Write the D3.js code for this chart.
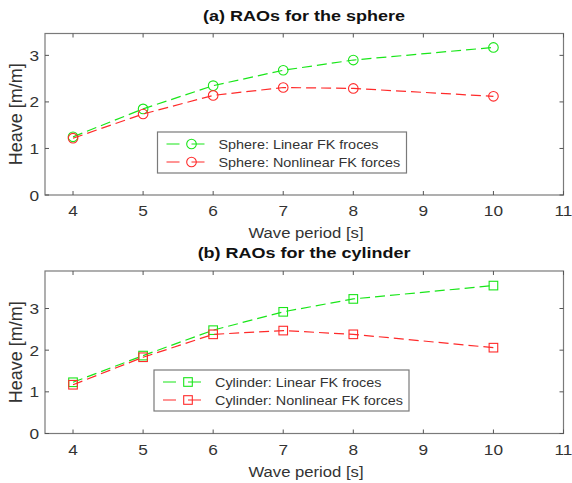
<script src="https://d3js.org/d3.v7.min.js"></script>
<style>
    body { margin: 0; background: #fff; }
    text { font-family: "Liberation Sans", Arial, sans-serif; fill: #333; }
    .frame { fill: none; stroke: #7a7a7a; stroke-width: 1.2px; }
    .tick-mark { stroke: #555; stroke-width: 1px; }
    .series { fill: none; stroke-width: 1.2px; stroke-dasharray: 10 5; }
    .marker { fill: none; stroke-width: 1.1px; }
    .legend-box { fill: #fff; stroke: #7a7a7a; stroke-width: 1.2px; }
</style>
<svg id="chart" width="572" height="483"></svg>
<script>
    // wave periods [s]
    const periods = [4, 5, 6, 7, 8, 10];
    const xTicks = [4, 5, 6, 7, 8, 9, 10, 11];
    const yTicks = [0, 1, 2, 3];

    // heave RAOs [m/m]
    const sphereLinear = [1.25, 1.85, 2.35, 2.68, 2.90, 3.17];
    const sphereNonlinear = [1.22, 1.74, 2.14, 2.31, 2.29, 2.12];
    const cylinderLinear = [1.23, 1.87, 2.48, 2.92, 3.23, 3.55];
    const cylinderNonlinear = [1.17, 1.83, 2.38, 2.47, 2.38, 2.06];

    const green = "#19e619";
    const red = "#ff2a2a";
    const stretch = 1.15; // the source figure is a little wider than tall

    const svg = d3.select("#chart");

    function drawPanel(p) {
        const x = d3.scaleLinear().domain([3.6, 11]).range([45, 563.5]);
        const y = d3.scaleLinear().domain([0, p.yMax]).range([p.bottom, p.top]);
        const g = svg.append("g");

        // frame with inward ticks on all four sides
        g.append("rect").attr("class", "frame")
            .attr("x", x(3.6)).attr("y", p.top)
            .attr("width", x(11) - x(3.6)).attr("height", p.bottom - p.top);
        xTicks.forEach(t => {
            g.append("line").attr("class", "tick-mark")
                .attr("x1", x(t)).attr("x2", x(t)).attr("y1", p.bottom).attr("y2", p.bottom - 4);
            g.append("line").attr("class", "tick-mark")
                .attr("x1", x(t)).attr("x2", x(t)).attr("y1", p.top).attr("y2", p.top + 4);
            g.append("text")
                .attr("transform", `translate(${x(t)},${p.bottom + 21}) scale(${stretch},1)`)
                .attr("text-anchor", "middle").style("font-size", "15px").text(t);
        });
        yTicks.forEach(t => {
            g.append("line").attr("class", "tick-mark")
                .attr("x1", x(3.6)).attr("x2", x(3.6) + 4).attr("y1", y(t)).attr("y2", y(t));
            g.append("line").attr("class", "tick-mark")
                .attr("x1", x(11)).attr("x2", x(11) - 4).attr("y1", y(t)).attr("y2", y(t));
            g.append("text")
                .attr("transform", `translate(${x(3.6) - 6},${y(t) + 5.5}) scale(${stretch},1)`)
                .attr("text-anchor", "end").style("font-size", "15px").text(t);
        });

        // title and axis labels
        g.append("text")
            .attr("transform", `translate(304,${p.top - 13}) scale(1.2,1)`)
            .attr("text-anchor", "middle").style("font-size", "15px").style("font-weight", "bold")
            .style("fill", "#111")
            .text(p.title);
        g.append("text")
            .attr("transform", `translate(306,${p.bottom + 43}) scale(${stretch},1)`)
            .attr("text-anchor", "middle").style("font-size", "14.5px")
            .text("Wave period [s]");
        g.append("text")
            .attr("transform", `translate(21.5,${(p.top + p.bottom) / 2}) rotate(-90)`)
            .attr("text-anchor", "middle").style("font-size", "18px")
            .text("Heave [m/m]");

        // series
        const line = d3.line().x((d, i) => x(periods[i])).y(d => y(d));
        p.series.forEach(s => {
            g.append("path").attr("class", "series").attr("stroke", s.color).attr("d", line(s.values));
            s.values.forEach((v, i) => drawMarker(g, p.marker, x(periods[i]), y(v), s.color));
        });

        // legend
        const lg = g.append("g");
        lg.append("rect").attr("class", "legend-box")
            .attr("x", p.legend.x).attr("y", p.legend.y)
            .attr("width", p.legend.w).attr("height", 41);
        p.series.forEach((s, i) => {
            const ly = p.legend.y + 12 + i * 18;
            lg.append("line").attr("class", "series").attr("stroke", s.color)
                .attr("x1", p.legend.x + 9).attr("x2", p.legend.x + 59).attr("y1", ly).attr("y2", ly)
                .style("stroke-dasharray", "13 12");
            drawMarker(lg, p.marker, p.legend.x + 34, ly, s.color);
            lg.append("text")
                .attr("transform", `translate(${p.legend.x + 61},${ly + 4.5}) scale(1.2,1)`)
                .style("font-size", "12px").text(s.name);
        });
    }

    function drawMarker(g, type, cx, cy, color) {
        if (type === "circle") {
            g.append("circle").attr("class", "marker").attr("stroke", color)
                .attr("cx", cx).attr("cy", cy).attr("r", 4.8);
        } else {
            g.append("rect").attr("class", "marker").attr("stroke", color)
                .attr("x", cx - 4.3).attr("y", cy - 4.3).attr("width", 8.6).attr("height", 8.6);
        }
    }

    drawPanel({
        title: "(a) RAOs for the sphere", top: 33.5, bottom: 195, yMax: 3.47, marker: "circle",
        legend: { x: 157.5, y: 132, w: 249 },
        series: [
            { name: "Sphere: Linear FK froces", values: sphereLinear, color: green },
            { name: "Sphere: Nonlinear FK forces", values: sphereNonlinear, color: red }
        ]
    });
    drawPanel({
        title: "(b) RAOs for the cylinder", top: 271, bottom: 433.5, yMax: 3.9, marker: "square",
        legend: { x: 154, y: 370, w: 255 },
        series: [
            { name: "Cylinder: Linear FK froces", values: cylinderLinear, color: green },
            { name: "Cylinder: Nonlinear FK forces", values: cylinderNonlinear, color: red }
        ]
    });
</script>
